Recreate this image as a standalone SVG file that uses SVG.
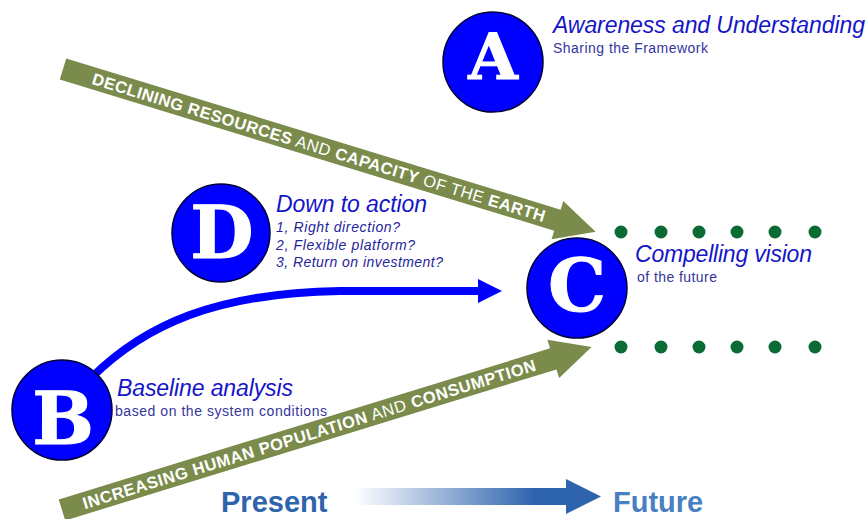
<svg xmlns="http://www.w3.org/2000/svg" width="868" height="519" viewBox="0 0 868 519">
<style>
.circ{fill:#0000ff;stroke:#00003a;stroke-width:1.5}
.big{font-family:"DejaVu Serif","Liberation Serif",serif;font-weight:bold;fill:#ffffff;text-anchor:middle;stroke:#ffffff;stroke-width:1}
.title{font-family:"Liberation Sans",Arial,sans-serif;font-style:italic;font-size:23px;fill:#1515c8}
.sub{font-family:"Liberation Sans",Arial,sans-serif;font-size:14px;fill:#35359a}
.item{font-family:"Liberation Sans",Arial,sans-serif;font-style:italic;font-size:14px;fill:#25259a}
.band{fill:#7a8b4b}
.bandtext{font-family:"Liberation Sans",Arial,sans-serif;font-size:16.5px;fill:#ffffff}
.b{font-weight:bold}
.dot{fill:#0b6b35}
.time{font-family:"Liberation Sans",Arial,sans-serif;font-weight:bold;font-size:29px}
</style>
<defs>
<linearGradient id="tg" x1="355" y1="0" x2="566" y2="0" gradientUnits="userSpaceOnUse">
<stop offset="0" stop-color="#ffffff"/>
<stop offset="0.85" stop-color="#2e64ad"/>
<stop offset="1" stop-color="#2e64ad"/>
</linearGradient>
</defs>

<g id="connectors">
  <g id="declining" transform="translate(63,69) rotate(17)">
    <polygon class="band" points="0,-11 517,-11 517,-20 557,0 517,20 517,11 0,11"/>
    <text class="bandtext" x="31" y="6" textLength="473" lengthAdjust="spacing"><tspan class="b">DECLINING RESOURCES</tspan> AND <tspan class="b">CAPACITY</tspan> OF THE <tspan class="b">EARTH</tspan></text>
  </g>
  <g id="increasing" transform="translate(62,510) rotate(-17.1)">
    <polygon class="band" points="0,-11 514,-11 514,-20 554,0 514,20 514,11 0,11"/>
    <text class="bandtext" x="22" y="6" textLength="473" lengthAdjust="spacing"><tspan class="b">INCREASING HUMAN POPULATION</tspan> AND <tspan class="b">CONSUMPTION</tspan></text>
  </g>
  <g id="b-to-c">
    <path d="M92 377 C145 325 215 293 340 291 L480 291" fill="none" stroke="#0000ff" stroke-width="8"/>
    <polygon points="478,279 502,291 478,303" fill="#0000ff"/>
  </g>
  <g id="timeline">
    <rect x="355" y="488" width="212" height="17" fill="url(#tg)"/>
    <polygon points="566,479 601,496.5 566,514" fill="#2e64ad"/>
  </g>
</g>

<g id="dots">
  <circle class="dot" cx="621" cy="232" r="6.5"/>
  <circle class="dot" cx="661" cy="232" r="6.5"/>
  <circle class="dot" cx="699" cy="232" r="6.5"/>
  <circle class="dot" cx="737" cy="232" r="6.5"/>
  <circle class="dot" cx="775" cy="232" r="6.5"/>
  <circle class="dot" cx="815" cy="232" r="6.5"/>
  <circle class="dot" cx="621" cy="347" r="6.5"/>
  <circle class="dot" cx="661" cy="347" r="6.5"/>
  <circle class="dot" cx="699" cy="347" r="6.5"/>
  <circle class="dot" cx="737" cy="347" r="6.5"/>
  <circle class="dot" cx="775" cy="347" r="6.5"/>
  <circle class="dot" cx="815" cy="347" r="6.5"/>
</g>

<g id="node-a">
  <circle class="circ" cx="493" cy="62" r="50"/>
  <text class="big" x="493" y="79" font-size="64">A</text>
  <text class="title" x="553" y="33" textLength="312" lengthAdjust="spacing">Awareness and Understanding</text>
  <text class="sub" x="553" y="53" textLength="155" lengthAdjust="spacing">Sharing the Framework</text>
</g>

<g id="node-d">
  <circle class="circ" cx="221" cy="233" r="49"/>
  <text class="big" x="222" y="258" font-size="73">D</text>
  <text class="title" x="276" y="212" textLength="151" lengthAdjust="spacing">Down to action</text>
  <text class="item" x="276" y="232" textLength="124" lengthAdjust="spacing">1, Right direction?</text>
  <text class="item" x="276" y="250" textLength="139" lengthAdjust="spacing">2, Flexible platform?</text>
  <text class="item" x="276" y="267" textLength="167" lengthAdjust="spacing">3, Return on investment?</text>
</g>

<g id="node-c">
  <circle class="circ" cx="577" cy="288" r="50"/>
  <text class="big" x="577" y="311" font-size="73">C</text>
  <text class="title" x="635" y="262" textLength="177" lengthAdjust="spacing">Compelling vision</text>
  <text class="sub" x="637" y="282" textLength="80" lengthAdjust="spacing">of the future</text>
</g>

<g id="node-b">
  <circle class="circ" cx="62" cy="410" r="50"/>
  <text class="big" x="63" y="444" font-size="73">B</text>
  <text class="title" x="117" y="396" textLength="176" lengthAdjust="spacing">Baseline analysis</text>
  <text class="sub" x="115" y="416" textLength="212" lengthAdjust="spacing">based on the system conditions</text>
</g>

<g id="time-labels">
  <text class="time" x="221" y="512" fill="#2e64ab">Present</text>
  <text class="time" x="613" y="512" fill="#4a7fc1">Future</text>
</g>
</svg>
